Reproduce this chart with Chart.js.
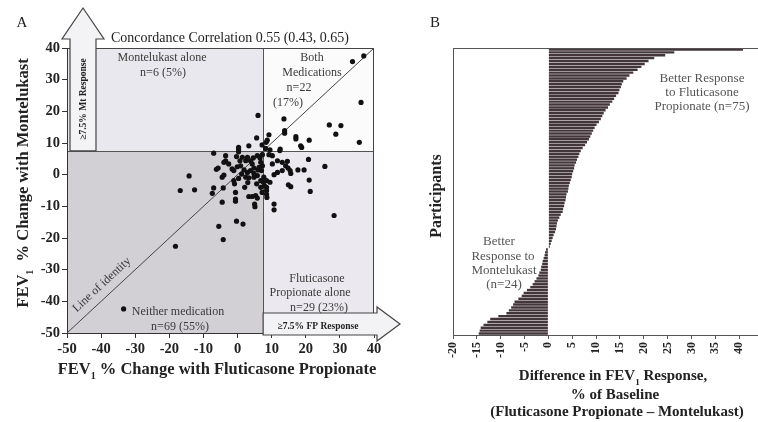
<!DOCTYPE html>
<html><head><meta charset="utf-8">
<script src="https://cdn.jsdelivr.net/npm/chart.js@4.4.1/dist/chart.umd.min.js"></script>
<style>
html,body{margin:0;padding:0;width:758px;height:422px;overflow:hidden;background:#fff;}
#a{position:absolute;left:0;top:0;}
#b{position:absolute;left:420px;top:0;}
</style></head><body>
<canvas id="a" width="420" height="422"></canvas>
<canvas id="b" width="345" height="422"></canvas>
<script>
// ---------- Panel A data: FEV1 % change per participant ----------
const fluticasoneChange = [
 6.0,5.6,3.3,0.3,0.3,7.2,
 37.0,33.7,36.2,13.6,26.9,30.3,28.8,35.7,13.8,13.8,17.1,17.1,21.0,18.5,18.8,9.2,8.7,8.4,12.5,12.4,8.2,9.5,
 9.2,10.2,11.7,13.1,14.6,20.8,25.6,14.1,14.8,15.4,17.7,19.5,15.6,21.0,10.7,14.9,15.6,21.3,10.7,10.7,28.3,8.5,8.5,8.5,8.6,7.9,7.6,7.7,8.5,9.5,10.2,11.7,13.1,
 0.3,-7.0,-3.5,-0.3,4.6,5.8,6.6,7.3,
 6.8,7.3,6.3,7.0,-3.5,-4.0,2.4,2.9,3.8,4.3,1.4,0.7,
 -6.2,-5.7,-4.5,-4.0,-2.6,-1.6,-1.1,-0.1,0.9,-1.1,-0.9,
 1.9,2.9,3.8,4.8,2.4,3.3,4.8,5.8,4.8,6.0,
 6.8,5.6,7.2,6.8,5.3,5.8,5.0,5.1,3.3,4.3,2.1,-0.6,-0.6,-0.6,-4.5,-5.5,-4.2,-0.3,1.6,-4.2,-7.0,-7.4,-12.6,-14.2,-16.8,-18.2,-33.4,
 1.2,3.0,0.3
];
const montelukastChange = [
 18.7,11.6,9.1,8.6,7.9,9.4,
 37.5,35.7,22.8,17.6,15.7,15.5,12.8,10.2,13.9,13.1,12.0,11.3,10.9,9.1,8.6,12.6,10.9,10.2,8.1,7.6,8.3,7.8,
 6.3,6.0,4.4,3.9,4.2,4.8,2.6,2.8,2.1,1.3,1.5,1.5,0.4,-1.7,0.0,-3.2,-3.8,-5.3,-9.3,-11.1,-12.9,-4.0,-5.0,-6.2,-7.2,-3.5,-2.4,-0.8,-1.9,-2.4,3.4,0.7,1.3,
 7.2,6.8,6.0,5.7,5.3,6.0,5.3,6.3,
 3.9,2.8,2.3,1.3,4.4,3.9,4.4,5.5,4.4,3.4,5.5,4.4,
 1.7,2.1,-0.8,-0.1,3.4,1.8,1.3,2.5,2.8,-1.9,-2.9,
 1.5,0.7,1.3,2.1,-0.8,-1.0,-0.8,-0.3,0.4,1.5,
 -1.9,-2.9,-5.6,-4.0,-6.6,-7.4,-9.3,-10.1,-6.9,-6.9,-4.0,-5.6,-7.7,-8.4,-8.7,-16.3,-20.5,-14.7,-15.6,-4.2,-4.2,-5.9,-4.8,-0.4,-5.0,-22.6,-42.4,
 0.2,-2.5,-1.2
];
const xTicksA = [-50,-40,-30,-20,-10,0,10,20,30,40];
const yTicksA = [-50,-40,-30,-20,-10,0,10,20,30,40];
const identityEnds = [-50, 40];
const responseThreshold = 7.5;

// ---------- Panel B data: difference FP - Mt, sorted ----------
const participantDiff = [
 40.8,26.4,24.5,22.2,21.0,20.2,19.5,18.7,17.8,17.0,
 16.4,15.7,15.4,15.2,14.9,14.7,14.2,13.8,13.4,12.9,
 12.5,12.0,11.6,11.3,11.0,10.6,10.1,9.7,9.4,9.1,
 8.8,8.5,8.1,7.7,7.2,6.8,6.5,6.3,6.0,5.8,
 5.5,5.4,5.2,5.0,4.9,4.7,4.5,4.3,4.2,4.1,
 3.8,3.7,3.6,3.4,3.3,3.1,3.0,2.6,2.3,2.0,
 1.8,1.7,1.6,1.4,1.1,0.9,0.7,0.5,0.3,
 -0.5,-0.7,-0.8,-1.0,-1.2,-1.3,-1.5,-1.6,-1.9,-2.1,
 -2.5,-2.9,-3.3,-3.8,-4.5,-5.2,-5.6,-6.3,-7.1,-7.4,
 -7.8,-8.3,-8.8,-10.5,-12.2,-12.8,-13.6,-14.2,-14.4,-14.6
];
const xTicksB = [-20,-15,-10,-5,0,5,10,15,20,25,30,35,40,45];

const SERIF = '"Liberation Serif","Times New Roman","DejaVu Serif",serif';

function subText(ctx, segs, x, y, size, weight, align){
  const mf = weight+' '+size+'px '+SERIF, sf = weight+' '+Math.round(size*0.62)+'px '+SERIF;
  let w = 0;
  segs.forEach(s=>{ctx.font = s[1]?sf:mf; w += ctx.measureText(s[0]).width;});
  let cx = align==='center' ? x - w/2 : x;
  ctx.textAlign='left'; ctx.textBaseline='alphabetic';
  segs.forEach(s=>{ctx.font = s[1]?sf:mf; ctx.fillText(s[0], cx, y + (s[1]? size*0.3 : 0)); cx += ctx.measureText(s[0]).width;});
}
function txt(ctx, s, x, y, font, color, align){
  ctx.font = font; ctx.fillStyle = color; ctx.textAlign = align||'center'; ctx.textBaseline='alphabetic';
  ctx.fillText(s, x, y);
}

const decorA = {
  id:'decorA',
  beforeDraw(chart){
    const {ctx, chartArea:a, scales:{x,y}} = chart;
    const tx = x.getPixelForValue(responseThreshold), ty = y.getPixelForValue(responseThreshold);
    ctx.save();
    ctx.fillStyle='#eae8ef'; ctx.fillRect(a.left,a.top,tx-a.left,ty-a.top);
    ctx.fillStyle='#fbfbfc'; ctx.fillRect(tx,a.top,a.right-tx,ty-a.top);
    ctx.fillStyle='#d2cfd5'; ctx.fillRect(a.left,ty,tx-a.left,a.bottom-ty);
    ctx.fillStyle='#ebe8f0'; ctx.fillRect(tx,ty,a.right-tx,a.bottom-ty);
    ctx.strokeStyle='#555'; ctx.lineWidth=1;
    ctx.beginPath();
    ctx.moveTo(Math.round(tx)+0.5,a.top); ctx.lineTo(Math.round(tx)+0.5,a.bottom);
    ctx.moveTo(a.left,Math.round(ty)+0.5); ctx.lineTo(a.right,Math.round(ty)+0.5);
    ctx.stroke();
    ctx.strokeStyle='#444';
    ctx.strokeRect(a.left+0.5,a.top+0.5,a.right-a.left-1,a.bottom-a.top);
    ctx.restore();
  },
  afterDraw(chart){
    const {ctx, chartArea:a, scales:{x,y}} = chart;
    const tx = x.getPixelForValue(responseThreshold), ty = y.getPixelForValue(responseThreshold);
    ctx.save();
    ctx.fillStyle='#f3f3f6'; ctx.strokeStyle='#444'; ctx.lineWidth=1.2;
    ctx.beginPath();
    ctx.moveTo(70,ty); ctx.lineTo(70,39); ctx.lineTo(62,39); ctx.lineTo(83,8); ctx.lineTo(104,39); ctx.lineTo(96,39); ctx.lineTo(96,ty);
    ctx.closePath(); ctx.fill(); ctx.stroke();
    ctx.beginPath();
    ctx.moveTo(tx,313); ctx.lineTo(377,313); ctx.lineTo(377,307); ctx.lineTo(400,324); ctx.lineTo(377,341); ctx.lineTo(377,335); ctx.lineTo(tx,335);
    ctx.closePath(); ctx.fill(); ctx.stroke();
    ctx.save(); ctx.translate(86,99); ctx.rotate(-Math.PI/2);
    txt(ctx,'\u22657.5% Mt Response',0,0,'bold 9.5px '+SERIF,'#222');
    ctx.restore();
    txt(ctx,'\u22657.5% FP Response',318,329,'bold 9.5px '+SERIF,'#222');
    txt(ctx,'A',22,27,'15px '+SERIF,'#222');
    txt(ctx,'Concordance Correlation 0.55 (0.43, 0.65)',230,42,'14px '+SERIF,'#222');
    const f = '12px '+SERIF, c = '#3a3a3a';
    txt(ctx,'Montelukast alone',162,61,f,c);
    txt(ctx,'n=6 (5%)',163,76,f,c);
    txt(ctx,'Both',312,61,f,c);
    txt(ctx,'Medications',312,76,f,c);
    txt(ctx,'n=22',299,91,f,c);
    txt(ctx,'(17%)',288,106,f,c);
    txt(ctx,'Fluticasone',317,282,f,c);
    txt(ctx,'Propionate alone',310,296,f,c);
    txt(ctx,'n=29 (23%)',319,311,f,c);
    txt(ctx,'Neither medication',178,315,f,c);
    txt(ctx,'n=69 (55%)',180,330,f,c);
    ctx.save(); ctx.translate(104,287); ctx.rotate(-Math.atan2(y.getPixelForValue(-50)-y.getPixelForValue(40), x.getPixelForValue(40)-x.getPixelForValue(-50)));
    txt(ctx,'Line of identity',0,0,f,c);
    ctx.restore();
    ctx.fillStyle='#222';
    subText(ctx,[['FEV',0],['1',1],[' % Change with Fluticasone Propionate',0]],217,374,16.5,'bold','center');
    ctx.save(); ctx.translate(28,183); ctx.rotate(-Math.PI/2);
    subText(ctx,[['FEV',0],['1',1],['  % Change with Montelukast',0]],0,0,16.5,'bold','center');
    ctx.restore();
    ctx.restore();
  }
};

const scatterPts = fluticasoneChange.map((v,i)=>({x:v,y:montelukastChange[i]}));
const tickFontA = {family:SERIF,size:14.5,weight:'bold'};

new Chart(document.getElementById('a'),{
  type:'scatter',
  data:{datasets:[
    {type:'line',data:identityEnds.map(v=>({x:v,y:v})),borderColor:'#444',borderWidth:1,pointRadius:0,order:2},
    {data:scatterPts,backgroundColor:'#111',borderColor:'#111',pointRadius:2.6,borderWidth:0,order:1}
  ]},
  options:{
    responsive:false,animation:false,
    layout:{padding:{top:48,right:46,left:0,bottom:0}},
    plugins:{legend:{display:false},tooltip:{enabled:false}},
    scales:{
      x:{type:'linear',min:-50,max:40,
        afterBuildTicks:s=>{s.ticks=xTicksA.map(v=>({value:v}));},
        afterFit:s=>{s.height=89;s.paddingLeft=0;s.paddingRight=0;},
        grid:{drawOnChartArea:false,tickLength:5,color:'#333'},
        border:{color:'#333'},
        ticks:{font:tickFontA,color:'#222',padding:3,autoSkip:false,maxRotation:0}},
      y:{type:'linear',min:-50,max:40,
        afterBuildTicks:s=>{s.ticks=yTicksA.map(v=>({value:v}));},
        afterFit:s=>{s.width=67;s.paddingTop=0;s.paddingBottom=0;},
        grid:{drawOnChartArea:false,tickLength:5,color:'#333'},
        border:{color:'#333'},
        ticks:{font:tickFontA,color:'#222',padding:2,autoSkip:false}}
    }
  },
  plugins:[decorA]
});

const decorB = {
  id:'decorB',
  afterDraw(chart){
    const {ctx, chartArea:a} = chart;
    ctx.save();
    ctx.strokeStyle='#555'; ctx.lineWidth=1;
    ctx.beginPath(); ctx.moveTo(a.left,a.top+0.5); ctx.lineTo(a.right+5,a.top+0.5); ctx.stroke();
    txt(ctx,'B',15,27,'15px '+SERIF,'#222');
    const f='13px '+SERIF, c='#555';
    txt(ctx,'Better Response',282,82,f,c);
    txt(ctx,'to Fluticasone',282,96,f,c);
    txt(ctx,'Propionate (n=75)',282,110,f,c);
    txt(ctx,'Better',79,245,f,c);
    txt(ctx,'Response to',83,260,f,c);
    txt(ctx,'Montelukast',84,274,f,c);
    txt(ctx,'(n=24)',84,288,f,c);
    ctx.fillStyle='#222';
    subText(ctx,[['Difference in FEV',0],['1',1],[' Response,',0]],193,380,15,'bold','center');
    txt(ctx,'% of Baseline',195,399,'bold 15px '+SERIF,'#222');
    txt(ctx,'(Fluticasone Propionate \u2013 Montelukast)',197,416,'bold 15px '+SERIF,'#222');
    ctx.save(); ctx.translate(21,196); ctx.rotate(-Math.PI/2);
    txt(ctx,'Participants',0,0,'bold 16px '+SERIF,'#222');
    ctx.restore();
    ctx.restore();
  }
};

new Chart(document.getElementById('b'),{
  type:'bar',
  data:{labels:participantDiff.map((_,i)=>String(i+1)),
    datasets:[{data:participantDiff,backgroundColor:'#43363a',borderWidth:0,barPercentage:0.84,categoryPercentage:1.0}]},
  options:{
    indexAxis:'y',responsive:false,animation:false,
    layout:{padding:{top:48,right:2,left:0,bottom:0}},
    plugins:{legend:{display:false},tooltip:{enabled:false}},
    scales:{
      x:{type:'linear',min:-20,max:45,
        afterBuildTicks:s=>{s.ticks=xTicksB.map(v=>({value:v}));},
        afterFit:s=>{s.height=87;s.paddingLeft=0;s.paddingRight=0;},
        grid:{drawOnChartArea:false,tickLength:4,color:'#555'},
        border:{color:'#555'},
        ticks:{font:{family:SERIF,size:12,weight:'bold'},color:'#222',padding:3,autoSkip:false,minRotation:90,maxRotation:90}},
      y:{type:'category',
        afterFit:s=>{s.width=33;s.paddingTop=0;s.paddingBottom=0;},
        grid:{display:false},
        border:{display:true,color:'#555'},
        ticks:{display:false}}
    }
  },
  plugins:[decorB]
});
</script>
</body></html>
